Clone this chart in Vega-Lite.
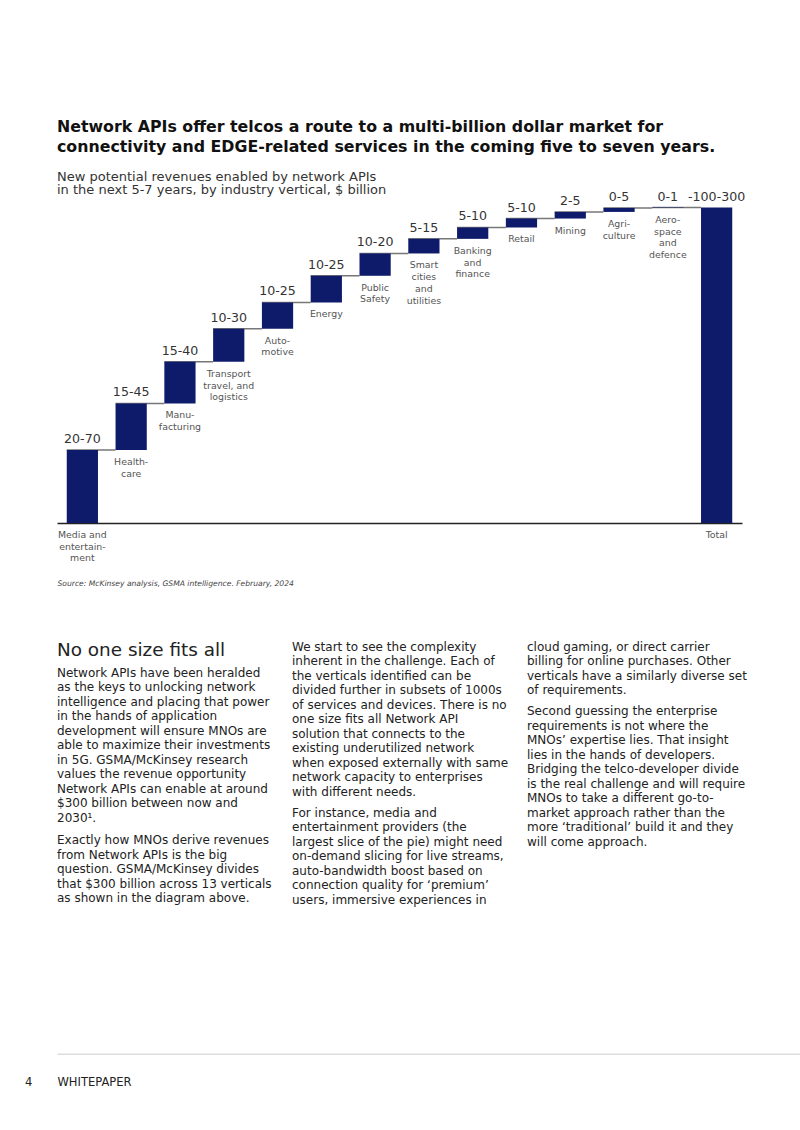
{
  "$schema": "https://vega.github.io/schema/vega-lite/v6.json",
  "background": "white",
  "padding": {"left": 25, "top": 118.5, "right": 0, "bottom": 0},
  "autosize": {"type": "pad"},
  "config": {"view": {"stroke": null}, "font": "DejaVu Sans"},
  "bounds": "flush",
  "spacing": 0,
  "datasets": {
    "bars": [
      {"cat": "Media", "label": "Media and\nentertain-\nment", "range": "20-70", "lo": 0, "hi": 69.4, "next": "Healthcare"},
      {"cat": "Healthcare", "label": "Health-\ncare", "range": "15-45", "lo": 69.4, "hi": 113.7, "next": "Manufacturing"},
      {"cat": "Manufacturing", "label": "Manu-\nfacturing", "range": "15-40", "lo": 113.7, "hi": 153.3, "next": "Transport"},
      {"cat": "Transport", "label": "Transport\ntravel, and\nlogistics", "range": "10-30", "lo": 153.3, "hi": 184.7, "next": "Automotive"},
      {"cat": "Automotive", "label": "Auto-\nmotive", "range": "10-25", "lo": 184.7, "hi": 209.7, "next": "Energy"},
      {"cat": "Energy", "label": "Energy", "range": "10-25", "lo": 209.7, "hi": 235.1, "next": "Public Safety"},
      {"cat": "Public Safety", "label": "Public\nSafety", "range": "10-20", "lo": 235.1, "hi": 256.3, "next": "Smart cities"},
      {"cat": "Smart cities", "label": "Smart\ncities\nand\nutilities", "range": "5-15", "lo": 256.3, "hi": 270.2, "next": "Banking"},
      {"cat": "Banking", "label": "Banking\nand\nfinance", "range": "5-10", "lo": 270.2, "hi": 281.0, "next": "Retail"},
      {"cat": "Retail", "label": "Retail", "range": "5-10", "lo": 281.0, "hi": 289.5, "next": "Mining"},
      {"cat": "Mining", "label": "Mining", "range": "2-5", "lo": 289.5, "hi": 295.8, "next": "Agriculture"},
      {"cat": "Agriculture", "label": "Agri-\nculture", "range": "0-5", "lo": 295.8, "hi": 299.6, "next": "Aerospace"},
      {"cat": "Aerospace", "label": "Aero-\nspace\nand\ndefence", "range": "0-1", "lo": 299.6, "hi": 300, "next": "Total"},
      {"cat": "Total", "label": "Total", "range": "-100-300", "lo": 0, "hi": 300, "next": null}
    ]
  },
  "vconcat": [
    {
      "width": 685,
      "height": 315.6,
      "title": {
        "text": ["Network APIs offer telcos a route to a multi-billion dollar market for", "connectivity and EDGE-related services in the coming five to seven years."],
        "subtitle": ["New potential revenues enabled by network APIs", "in the next 5-7 years, by industry vertical, $ billion"],
        "anchor": "start", "frame": "group", "orient": "top", "offset": -7.5,
        "font": "DejaVu Sans", "fontSize": 15.8, "fontWeight": "bold", "color": "#111111", "lineHeight": 19.5,
        "subtitleFont": "DejaVu Sans", "subtitleFontSize": 13, "subtitleColor": "#333333", "subtitleLineHeight": 13.5, "subtitlePadding": 15
      },
      "data": {"name": "bars"},
      "encoding": {
        "x": {
          "field": "cat", "type": "nominal",
          "scale": {"domain": ["Media", "Healthcare", "Manufacturing", "Transport", "Automotive", "Energy", "Public Safety", "Smart cities", "Banking", "Retail", "Mining", "Agriculture", "Aerospace", "Total"], "paddingInner": 0.36, "paddingOuter": 0.2},
          "axis": {"domain": true, "domainColor": "#222222", "domainWidth": 1.5, "ticks": false, "labels": false, "grid": false,
            "title": "Source: McKinsey analysis, GSMA intelligence. February, 2024",
            "titleFontStyle": "italic", "titleFontSize": 7.6, "titleFontWeight": "normal", "titleColor": "#444444",
            "titleAnchor": "start", "titleAlign": "left", "titleX": 0, "titleY": 60, "titleBaseline": "middle"}
        }
      },
      "layer": [
        {
          "transform": [{"filter": "datum.next != null"}],
          "mark": {"type": "rule", "color": "#777777", "strokeWidth": 1.5},
          "encoding": {
            "x": {"field": "cat", "type": "nominal", "bandPosition": 0},
            "x2": {"field": "next", "bandPosition": 0},
            "y": {"field": "hi", "type": "quantitative", "axis": null}
          }
        },
        {
          "mark": {"type": "bar", "color": "#0e1b6b"},
          "encoding": {
            "y": {"field": "lo", "type": "quantitative", "scale": {"domain": [0, 300], "nice": false}, "axis": null},
            "y2": {"field": "hi"}
          }
        },
        {
          "mark": {"type": "text", "fontSize": 12.6, "color": "#333333", "baseline": "alphabetic", "dy": -7},
          "encoding": {
            "y": {"field": "hi", "type": "quantitative", "axis": null},
            "text": {"field": "range"}
          }
        },
        {
          "mark": {"type": "text", "fontSize": 9.4, "color": "#555555", "baseline": "top", "dy": 8, "lineBreak": "\n", "lineHeight": 11.7},
          "encoding": {
            "y": {"field": "lo", "type": "quantitative", "axis": null},
            "text": {"field": "label"}
          }
        }
      ]
    },
    {
      "concat": [
        {
          "width": 220, "height": 117,
          "data": {"values": [{"t": ""}]},
          "mark": {"type": "text", "opacity": 0},
          "encoding": {"text": {"value": ""}},
          "title": {
            "text": "No one size fits all",
            "subtitle": ["Network APIs have been heralded", "as the keys to unlocking network", "intelligence and placing that power", "in the hands of application", "development will ensure MNOs are", "able to maximize their investments", "in 5G. GSMA/McKinsey research", "values the revenue opportunity", "Network APIs can enable at around", "$300 billion between now and", "2030¹."],
            "orient": "bottom", "anchor": "start", "frame": "group", "offset": 0,
            "font": "DejaVu Sans", "fontSize": 18.4, "fontWeight": "normal", "color": "#222222",
            "subtitleFont": "DejaVu Sans", "subtitleFontSize": 12, "subtitleColor": "#222222", "subtitleLineHeight": 14.5, "subtitlePadding": 8.8
          }
        },
        {
          "width": 220, "height": 117,
          "data": {"values": [{"t": ""}]},
          "mark": {"type": "text", "opacity": 0},
          "encoding": {"text": {"value": ""}},
          "title": {
            "text": ["We start to see the complexity", "inherent in the challenge. Each of", "the verticals identified can be", "divided further in subsets of 1000s", "of services and devices. There is no", "one size fits all Network API", "solution that connects to the", "existing underutilized network", "when exposed externally with same", "network capacity to enterprises", "with different needs."],
            "orient": "bottom", "anchor": "start", "frame": "group", "offset": 1,
            "font": "DejaVu Sans", "fontSize": 12, "fontWeight": "normal", "color": "#222222", "lineHeight": 14.5
          }
        },
        {
          "width": 220, "height": 117,
          "data": {"values": [{"t": ""}]},
          "mark": {"type": "text", "opacity": 0},
          "encoding": {"text": {"value": ""}},
          "title": {
            "text": ["cloud gaming, or direct carrier", "billing for online purchases. Other", "verticals have a similarly diverse set", "of requirements."],
            "orient": "bottom", "anchor": "start", "frame": "group", "offset": 1,
            "font": "DejaVu Sans", "fontSize": 12, "fontWeight": "normal", "color": "#222222", "lineHeight": 14.5
          }
        },
        {
          "width": 220, "height": 194.5,
          "data": {"values": [{"t": ""}]},
          "mark": {"type": "text", "opacity": 0},
          "encoding": {"text": {"value": ""}},
          "title": {
            "text": ["Exactly how MNOs derive revenues", "from Network APIs is the big", "question. GSMA/McKinsey divides", "that $300 billion across 13 verticals", "as shown in the diagram above."],
            "orient": "bottom", "anchor": "start", "frame": "group", "offset": 0,
            "font": "DejaVu Sans", "fontSize": 12, "fontWeight": "normal", "color": "#222222", "lineHeight": 14.5
          }
        },
        {
          "width": 220, "height": 167.2,
          "data": {"values": [{"t": ""}]},
          "mark": {"type": "text", "opacity": 0},
          "encoding": {"text": {"value": ""}},
          "title": {
            "text": ["For instance, media and", "entertainment providers (the", "largest slice of the pie) might need", "on-demand slicing for live streams,", "auto-bandwidth boost based on", "connection quality for ‘premium’", "users, immersive experiences in"],
            "orient": "bottom", "anchor": "start", "frame": "group", "offset": 0,
            "font": "DejaVu Sans", "fontSize": 12, "fontWeight": "normal", "color": "#222222", "lineHeight": 14.5
          }
        },
        {
          "width": 220, "height": 65.5,
          "data": {"values": [{"t": ""}]},
          "mark": {"type": "text", "opacity": 0},
          "encoding": {"text": {"value": ""}},
          "title": {
            "text": ["Second guessing the enterprise", "requirements is not where the", "MNOs’ expertise lies. That insight", "lies in the hands of developers.", "Bridging the telco-developer divide", "is the real challenge and will require", "MNOs to take a different go-to-", "market approach rather than the", "more ‘traditional’ build it and they", "will come approach."],
            "orient": "bottom", "anchor": "start", "frame": "group", "offset": 0,
            "font": "DejaVu Sans", "fontSize": 12, "fontWeight": "normal", "color": "#222222", "lineHeight": 14.5
          }
        }
      ],
      "columns": 3,
      "spacing": {"row": 0, "column": 15},
      "bounds": "flush"
    },
    {
      "width": 743, "height": 530.2,
      "data": {"values": [{"v": 0}]},
      "mark": {"type": "point", "opacity": 0},
      "encoding": {
        "x": {"field": "v", "type": "quantitative", "scale": {"domain": [0, 1]},
          "axis": {"domain": true, "domainColor": "#cccccc", "domainWidth": 1, "ticks": false, "labels": false, "grid": false,
            "title": "WHITEPAPER", "titleFontSize": 11.5, "titleFontWeight": "normal", "titleColor": "#222222",
            "titleAnchor": "start", "titleAlign": "left", "titleX": 0, "titleY": 29, "titleBaseline": "middle"}}
      },
      "title": {"text": "4", "orient": "bottom", "anchor": "start", "frame": "group", "dx": -32, "offset": -11, "font": "DejaVu Sans", "fontSize": 11.5, "fontWeight": "normal", "color": "#222222"}
    }
  ]
}
